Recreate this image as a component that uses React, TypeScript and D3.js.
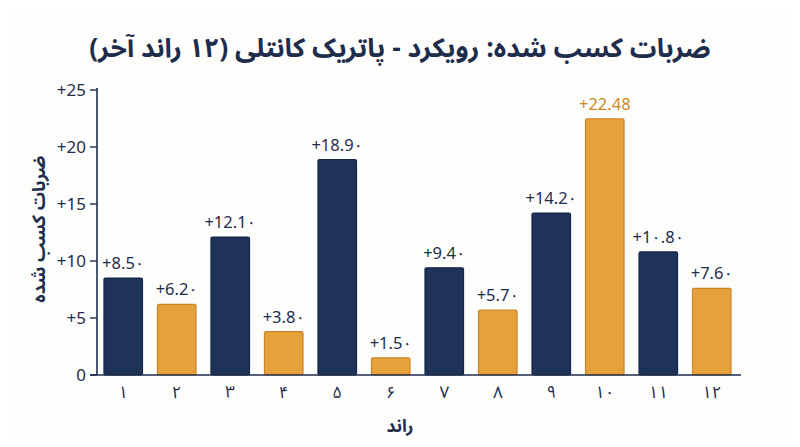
import React from "react";
import * as d3 from "d3";

const rounds = ["۱", "۲", "۳", "۴", "۵", "۶", "۷", "۸", "۹", "۱۰", "۱۱", "۱۲"];
const values = [8.5, 6.2, 12.1, 3.8, 18.9, 1.5, 9.4, 5.7, 14.2, 22.48, 10.8, 7.6];
const valueLabels = ["+8.5۰", "+6.2۰", "+12.1۰", "+3.8۰", "+18.9۰", "+1.5۰", "+9.4۰", "+5.7۰", "+14.2۰", "+22.48", "+1۰.8۰", "+7.6۰"];
const yTicks = [0, 5, 10, 15, 20, 25];
const yTickLabels = ["0", "+5", "+10", "+15", "+20", "+25"];
const title = "ضربات کسب شده: رویکرد - پاتریک کانتلی (۱۲ راند آخر)";
const yTitle = "ضربات کسب شده";
const xTitle = "راند";

const NAVY = "#1f3358";
const NAVY_DARK = "#16264a";
const ORANGE = "#e6a23a";
const ORANGE_DARK = "#c9852a";
const TEXT = "#1f2d4d";
const FONT = "'Noto Sans Arabic', 'DejaVu Sans', 'Noto Sans', sans-serif";

export default function App() {
  const W = 800, H = 447;
  const x0 = 97, x1 = 738, yTop = 90, yBase = 375;
  const x = d3.scaleBand<number>().domain(d3.range(values.length)).range([x0, x1]).paddingInner(0.28).paddingOuter(0.13);
  const y = d3.scaleLinear().domain([0, 25]).range([yBase, yTop]);
  const maxIdx = values.indexOf(d3.max(values) as number);

  return (
    <div style={{ margin: -8, width: W, height: H, background: "#fdfdfc" }}>
      <svg width={W} height={H} style={{ display: "block" }}>
        <rect x={0} y={0} width={W} height={H} fill="#fdfdfc" />
        <text x={400} y={57} textAnchor="middle" fontFamily={FONT} fontWeight="bold" fontSize={26.5} fill={TEXT} direction="rtl">{title}</text>
        {/* y axis */}
        <line x1={x0} x2={x0} y1={yTop - 2} y2={yBase} stroke={TEXT} strokeWidth={1.6} />
        {yTicks.map((t, i) => (
          <g key={t}>
            <line x1={x0 - 7} x2={x0} y1={y(t)} y2={y(t)} stroke={TEXT} strokeWidth={1.4} />
            <text x={x0 - 11} y={y(t)} dy="0.35em" textAnchor="end" fontFamily={FONT} fontSize={17} fill={TEXT}>{yTickLabels[i]}</text>
          </g>
        ))}
        <text transform={`translate(39,229) rotate(-90)`} textAnchor="middle" fontFamily={FONT} fontWeight="bold" fontSize={18} fill={TEXT} dy="0.35em">{yTitle}</text>
        {/* bars */}
        {values.map((v, i) => {
          const even = i % 2 === 1;
          const bx = x(i) as number;
          const by = y(v);
          return (
            <g key={i}>
              <rect x={bx} y={by} width={x.bandwidth()} height={yBase - by} rx={1.5} fill={even ? ORANGE : NAVY} stroke={even ? ORANGE_DARK : NAVY_DARK} strokeWidth={1.2} />
              <text x={bx + x.bandwidth() / 2} y={by - 9} textAnchor="middle" fontFamily={FONT} fontSize={16.5} fill={i === maxIdx ? "#c98a25" : TEXT}>{valueLabels[i]}</text>
              <text x={bx + x.bandwidth() / 2} y={398} textAnchor="middle" fontFamily={FONT} fontSize={17} fill={TEXT}>{rounds[i]}</text>
            </g>
          );
        })}
        {/* baseline */}
        <line x1={x0 - 7} x2={x1 + 3} y1={yBase} y2={yBase} stroke={TEXT} strokeWidth={1.6} />
        <text x={400} y={432} textAnchor="middle" fontFamily={FONT} fontWeight="bold" fontSize={17.5} fill={TEXT}>{xTitle}</text>
      </svg>
    </div>
  );
}
